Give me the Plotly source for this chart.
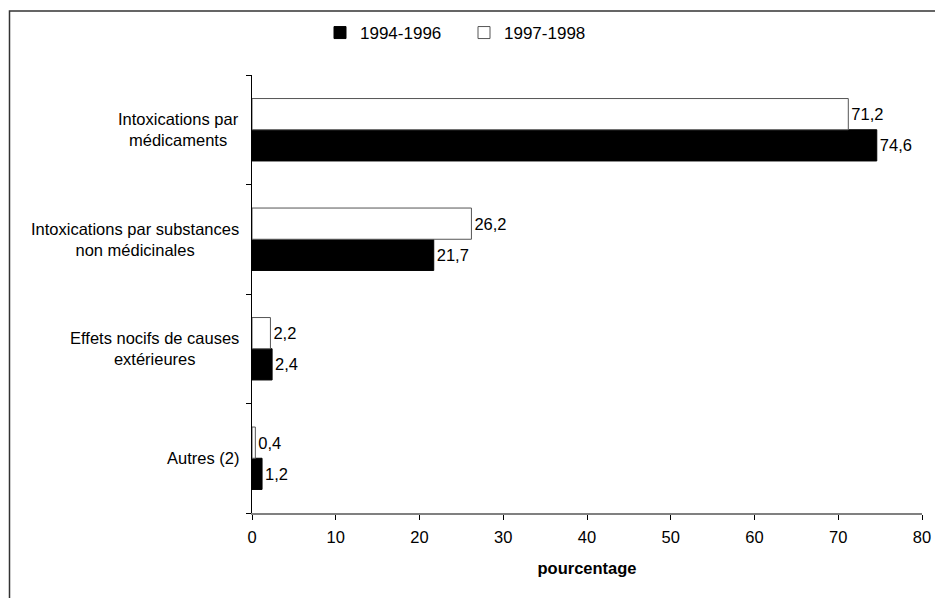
import plotly.graph_objects as go

categories = [
    "Intoxications par<br>médicaments",
    "Intoxications par substances<br>non médicinales",
    "Effets nocifs de causes<br>extérieures",
    "Autres (2)",
]
series_names = ["1994-1996", "1997-1998"]
values_9496 = [74.6, 21.7, 2.4, 1.2]
values_9798 = [71.2, 26.2, 2.2, 0.4]
x_ticks = [0, 10, 20, 30, 40, 50, 60, 70, 80]

W, H = 935, 598
ml, mr, mt, mb = 252, 13, 75, 85
pw, ph = W - ml - mr, H - mt - mb

def fmt(v):
    return f"{v:.1f}".replace(".", ",")

font = dict(family="Liberation Sans, Arial, sans-serif", size=16.5, color="black")

fig = go.Figure()
fig.add_trace(go.Bar(
    y=categories, x=values_9496, orientation="h", name=series_names[0],
    marker=dict(color="black", line=dict(color="black", width=1)),
    text=[fmt(v) for v in values_9496], textposition="outside",
    textfont=font, cliponaxis=False,
))
fig.add_trace(go.Bar(
    y=categories, x=values_9798, orientation="h", name=series_names[1],
    marker=dict(color="white", line=dict(color="#555555", width=1)),
    text=[fmt(v) for v in values_9798], textposition="outside",
    textfont=font, cliponaxis=False,
))

annotations = []
for c in categories:
    annotations.append(dict(
        x=0, xref="paper", y=c, yref="y", text=c, showarrow=False,
        xanchor="right", yanchor="middle", align="center", xshift=-11,
        font=font,
    ))

# outer frame (only top and left visible in the picture)
px_left, px_top = 9.5, 11
shapes = [dict(
    type="rect", xref="paper", yref="paper",
    x0=(px_left - ml) / pw, x1=1.2,
    y0=-0.4, y1=(H - mb - px_top) / ph,
    line=dict(color="#333333", width=1.5), layer="above",
)]

fig.update_layout(
    width=W, height=H,
    margin=dict(l=ml, r=mr, t=mt, b=mb, autoexpand=False),
    paper_bgcolor="white", plot_bgcolor="white",
    barmode="group", bargap=0.43, bargroupgap=0,
    font=font,
    showlegend=True,
    legend=dict(
        orientation="h", x=(320 - ml) / pw, xanchor="left",
        y=(H - mb - 33) / ph, yanchor="middle",
        traceorder="normal", font=dict(font, size=17), itemwidth=30,
        entrywidth=99, bgcolor="rgba(0,0,0,0)",
    ),
    xaxis=dict(
        range=[0, 80], tickvals=x_ticks, ticktext=[str(t) for t in x_ticks],
        showgrid=False, zeroline=False, showline=True, linecolor="#808080",
        linewidth=1.5, ticks="outside", ticklen=5, tickcolor="black",
        tickfont=font, ticklabelstandoff=3, automargin=False,
        title=dict(text="<b>pourcentage</b>", font=font, standoff=18),
    ),
    yaxis=dict(
        categoryorder="array", categoryarray=categories[::-1],
        range=[-0.5, 3.5], showgrid=False, zeroline=False,
        showline=True, linecolor="black", linewidth=1,
        ticks="outside", ticklen=5, tickcolor="black", automargin=False,
        tickson="boundaries", showticklabels=False,
    ),
    annotations=annotations,
    shapes=shapes,
)

fig.write_html("out.html", config={"displayModeBar": False},
               post_script="document.body.style.margin='0';document.body.style.overflow='hidden';")
